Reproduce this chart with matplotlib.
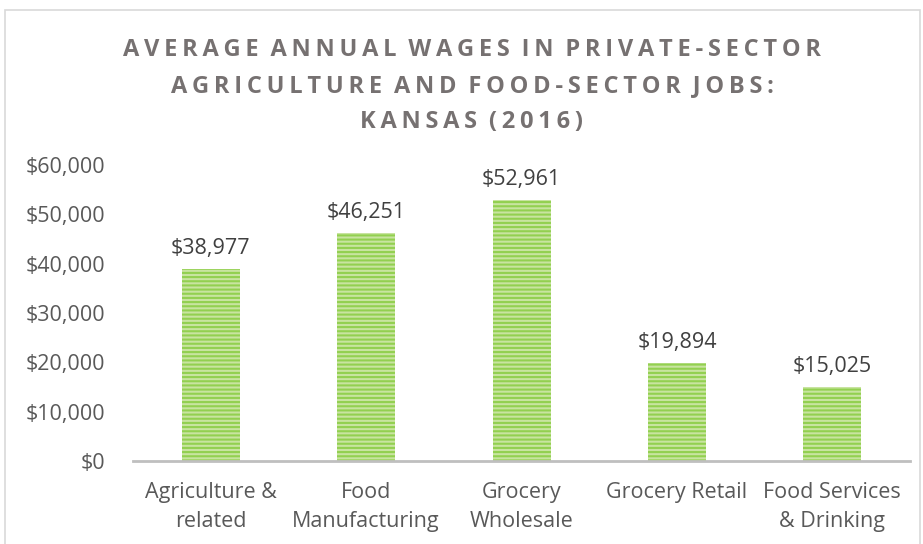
import matplotlib
matplotlib.use("Agg")
import matplotlib.pyplot as plt
from matplotlib.patches import Rectangle
from matplotlib.ticker import FuncFormatter

categories = ["Agriculture &\nrelated", "Food\nManufacturing", "Grocery\nWholesale",
              "Grocery Retail", "Food Services\n& Drinking"]
wages = [38977, 46251, 52961, 19894, 15025]
yticks = [0, 10000, 20000, 30000, 40000, 50000, 60000]
title_lines = ["AVERAGE ANNUAL WAGES IN PRIVATE-SECTOR",
               "AGRICULTURE AND FOOD-SECTOR JOBS:",
               "KANSAS (2016)"]

plt.rcParams["font.family"] = ["Open Sans", "DejaVu Sans"]
plt.rcParams["hatch.linewidth"] = 1.5

W, H = 923, 544
fig = plt.figure(figsize=(W / 100, H / 100), dpi=100)

# chart frame
fig.patches.append(Rectangle((5 / W, -0.05), 915 / W, 1.05 - 10 / H, transform=fig.transFigure,
                             fill=False, edgecolor="#d9d9d9", linewidth=1.2))

ax = fig.add_axes([133 / W, 1 - 461 / H, (910 - 133) / W, (461 - 165) / H])

x = range(len(categories))
ax.bar(x, wages, width=58 / 155.4, facecolor="#c8e4a0", edgecolor="#92d050",
       hatch="----", linewidth=0)

for xi, v in zip(x, wages):
    ax.annotate(f"${v:,}", (xi, v), xytext=(0, 7), textcoords="offset points",
                ha="center", va="bottom", fontsize=15.5, color="#404040")

ax.set_xlim(-0.5, len(categories) - 0.5)
ax.set_ylim(0, 60000)
ax.set_yticks(yticks)
ax.yaxis.set_major_formatter(FuncFormatter(lambda v, p: f"${int(v):,}"))
ax.set_xticks(list(x))
ax.set_xticklabels(categories, linespacing=1.5)
ax.tick_params(axis="both", length=0, labelsize=15.5, labelcolor="#595959")
ax.tick_params(axis="x", pad=15)
ax.tick_params(axis="y", pad=20)

for s in ["top", "right", "left"]:
    ax.spines[s].set_visible(False)
ax.spines["bottom"].set_color("#bfbfbf")
ax.spines["bottom"].set_linewidth(2)

sep = "\u2009"
for i, line in enumerate(title_lines):
    spaced = sep.join(line).replace(f"{sep} {sep}", "\u2002")
    fig.text(472 / W, 1 - (50 + i * 36) / H, spaced, ha="center", va="center",
             fontsize=17, fontweight="bold", color="#767171")

fig.savefig("out.png", dpi=100)
